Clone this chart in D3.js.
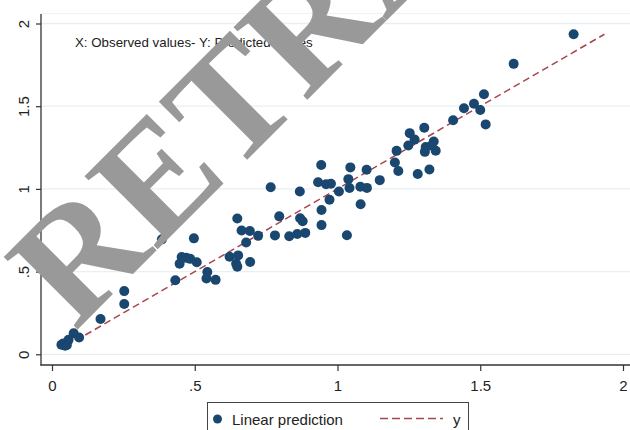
<!DOCTYPE html>
<html>
<head>
<meta charset="utf-8">
<script src="https://d3js.org/d3.v7.min.js"></script>
<style>
  body { margin: 0; background: #fff; }
  svg { display: block; font-family: "Liberation Sans", Arial, sans-serif; }
</style>
</head>
<body>
<script>
var observed = [1.827, 1.617, 1.513, 1.478, 1.443, 1.500, 1.519, 1.405, 1.304, 1.253,
  1.270, 1.248, 1.207, 1.337, 1.309, 1.330, 1.306, 1.344, 1.201, 1.213,
  1.281, 1.322, 1.148, 1.102, 1.045, 1.038, 1.042, 1.080, 1.103, 1.081,
  1.005, 1.033, 0.943, 0.932, 0.960, 0.977, 0.972, 0.944, 0.944, 0.868,
  0.766, 0.796, 0.869, 0.878, 0.781, 0.831, 0.859, 0.887, 0.722, 0.664,
  0.693, 0.649, 0.680, 0.622, 0.652, 0.645, 0.649, 0.694, 0.497, 0.385,
  0.454, 0.470, 0.484, 0.447, 0.507, 0.544, 0.541, 0.573, 0.432, 0.253,
  0.253, 0.170, 0.095, 0.076, 0.058, 0.040, 0.046, 0.033, 0.052];
var predicted = [1.935, 1.756, 1.572, 1.515, 1.488, 1.477, 1.390, 1.415, 1.370, 1.337,
  1.298, 1.262, 1.230, 1.287, 1.253, 1.262, 1.224, 1.231, 1.160, 1.108,
  1.090, 1.117, 1.053, 1.116, 1.130, 1.059, 1.005, 1.013, 1.006, 0.907,
  0.984, 0.720, 1.145, 1.040, 1.028, 1.031, 0.934, 0.872, 0.781, 0.984,
  1.010, 0.834, 0.823, 0.804, 0.719, 0.714, 0.727, 0.734, 0.716, 0.749,
  0.746, 0.821, 0.676, 0.590, 0.598, 0.548, 0.530, 0.558, 0.701, 0.695,
  0.588, 0.583, 0.577, 0.548, 0.556, 0.498, 0.458, 0.450, 0.448, 0.382,
  0.304, 0.213, 0.102, 0.127, 0.088, 0.066, 0.052, 0.058, 0.056];

// the y = x reference line
var refLine = [0.05, 1.935];

var tickValues = [0, 0.5, 1, 1.5, 2];
var tickLabels = ["0", ".5", "1", "1.5", "2"];
var legendLabels = ["Linear prediction", "y"];
var noteText = "X: Observed values- Y: Predicted values";
var stampText = "RETRACTED";

var width = 630, height = 430;
var navy = "#1a476f", maroon = "#a8464d";

// Set the ranges
var x = d3.scaleLinear().domain([0, 2]).range([52, 623]);
var y = d3.scaleLinear().domain([0, 2]).range([354.3, 23.5]);

var svg = d3.select("body")
  .append("svg")
    .attr("width", width)
    .attr("height", height);

// grid lines
svg.append("line")
  .attr("x1", 41).attr("x2", width)
  .attr("y1", 13.5).attr("y2", 13.5)
  .attr("stroke", "#eef4f5").attr("stroke-width", 1);
svg.selectAll(".grid")
  .data(tickValues)
  .enter().append("line")
    .attr("class", "grid")
    .attr("x1", 41).attr("x2", width)
    .attr("y1", function(d) { return y(d); })
    .attr("y2", function(d) { return y(d); })
    .attr("stroke", "#e8f0f2")
    .attr("stroke-width", 1.3);

// note text inside the plot
svg.append("text")
  .attr("x", 75)
  .attr("y", 47)
  .attr("font-size", 13.3)
  .attr("fill", "#222")
  .text(noteText);

// reference line y = x
var valueline = d3.line()
  .x(function(d) { return x(d); })
  .y(function(d) { return y(d); });

svg.append("path")
  .attr("d", valueline(refLine))
  .attr("fill", "none")
  .attr("stroke", maroon)
  .attr("stroke-width", 1.5)
  .attr("stroke-dasharray", "7,4");

// scatter points
svg.selectAll(".dot")
  .data(observed)
  .enter().append("circle")
    .attr("class", "dot")
    .attr("cx", function(d) { return x(d); })
    .attr("cy", function(d, i) { return y(predicted[i]); })
    .attr("r", 5)
    .attr("fill", navy);

// Add the Y Axis
var yAxis = d3.axisLeft(y)
  .tickValues(tickValues)
  .tickFormat(function(d, i) { return tickLabels[i]; })
  .tickSize(5)
  .tickSizeOuter(0);

var gy = svg.append("g")
  .attr("transform", "translate(41,0)")
  .call(yAxis);
gy.select(".domain").remove();
gy.selectAll(".tick line").attr("stroke", "#333").attr("stroke-width", 1.2);
gy.selectAll(".tick text")
  .attr("transform", "rotate(-90)")
  .attr("x", 0)
  .attr("y", -12.5)
  .attr("dy", 0)
  .attr("text-anchor", "middle")
  .attr("font-size", 15)
  .attr("font-family", "Liberation Sans, Arial, sans-serif")
  .attr("fill", "#222");

// Add the X Axis
var xAxis = d3.axisBottom(x)
  .tickValues(tickValues)
  .tickFormat(function(d, i) { return tickLabels[i]; })
  .tickSize(6)
  .tickPadding(9)
  .tickSizeOuter(0);

var gx = svg.append("g")
  .attr("transform", "translate(0,365)")
  .call(xAxis);
gx.select(".domain").remove();
gx.selectAll(".tick line").attr("stroke", "#333").attr("stroke-width", 1.2);
gx.selectAll(".tick text")
  .attr("font-size", 15)
  .attr("font-family", "Liberation Sans, Arial, sans-serif")
  .attr("fill", "#222");

// axis lines
svg.append("line")
  .attr("x1", 41).attr("x2", 41)
  .attr("y1", 14).attr("y2", 365.6)
  .attr("stroke", "#333").attr("stroke-width", 1.3);
svg.append("line")
  .attr("x1", 40.4).attr("x2", width)
  .attr("y1", 365).attr("y2", 365)
  .attr("stroke", "#333").attr("stroke-width", 1.3);

// legend
var legend = svg.append("g");
legend.append("rect")
  .attr("x", 207.5).attr("y", 402.5)
  .attr("width", 261).attr("height", 40)
  .attr("fill", "#fff")
  .attr("stroke", "#444")
  .attr("stroke-width", 1);
legend.append("circle")
  .attr("cx", 217.5).attr("cy", 419)
  .attr("r", 4.5)
  .attr("fill", navy);
legend.append("text")
  .attr("x", 232).attr("y", 424.5)
  .attr("font-size", 15)
  .attr("fill", "#222")
  .text(legendLabels[0]);
legend.append("line")
  .attr("x1", 380).attr("x2", 443)
  .attr("y1", 418.5).attr("y2", 418.5)
  .attr("stroke", maroon)
  .attr("stroke-width", 1.5)
  .attr("stroke-dasharray", "8,4");
legend.append("text")
  .attr("x", 453).attr("y", 424.5)
  .attr("font-size", 15)
  .attr("fill", "#222")
  .text(legendLabels[1]);

// retraction stamp over everything
svg.append("text")
  .attr("transform", "translate(75,332) rotate(-45)")
  .attr("font-family", "Liberation Serif, Times New Roman, serif")
  .attr("font-weight", "bold")
  .attr("font-size", 158)
  .attr("fill", "#999999")
  .text(stampText);
</script>
</body>
</html>
